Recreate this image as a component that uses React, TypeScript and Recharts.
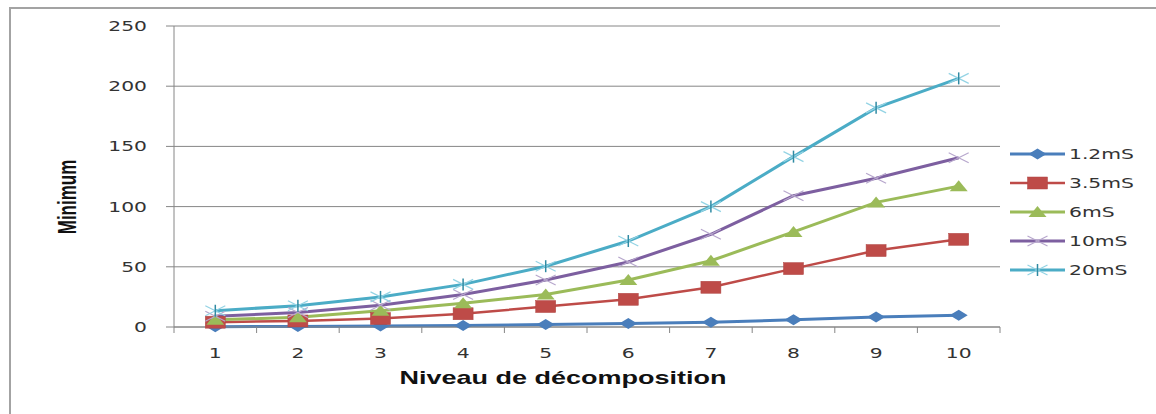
import { LineChart, Line, XAxis, YAxis, CartesianGrid } from "recharts";

// values
const levels = [1, 2, 3, 4, 5, 6, 7, 8, 9, 10];
const ms12 = [0.3, 0.5, 0.8, 1.3, 2, 3, 4, 6, 8.3, 9.7];
const ms35 = [4, 5, 7, 11, 17, 23, 33, 48.5, 63.5, 72.8];
const ms6 = [6, 8, 13.5, 19.7, 27, 39, 55, 79, 103.5, 117];
const ms10 = [9, 12, 18, 27, 39, 54, 77, 109, 123.5, 140.6];
const ms20 = [13.5, 17.7, 25, 35.4, 50.5, 71.4, 100, 141.5, 182, 206.5];
const yTicks = [0, 50, 100, 150, 200, 250];

const series = [
  { key: "ms12", name: "1.2mS", color: "#4A7EBB", marker: "diamond", width: 3, values: ms12 },
  { key: "ms35", name: "3.5mS", color: "#BE4B48", marker: "square", width: 2.5, values: ms35 },
  { key: "ms6", name: "6mS", color: "#9BBB59", marker: "triangle", width: 3, values: ms6 },
  { key: "ms10", name: "10mS", color: "#7D5FA0", marker: "cross", width: 3, values: ms10 },
  { key: "ms20", name: "20mS", color: "#4BACC6", marker: "star", width: 3, values: ms20 },
];

const data = levels.map((lvl, i) => {
  const row: Record<string, number> = { level: lvl };
  series.forEach((s) => (row[s.key] = s.values[i]));
  return row;
});

const AXIS = "#868686";
const TEXT = "#333";
const STRETCH = 1.45;

function Marker({ type, cx, cy, color }: any) {
  if (cx == null || cy == null) return null;
  switch (type) {
    case "diamond":
      return (
        <polygon
          points={`${cx - 9},${cy} ${cx},${cy - 5.5} ${cx + 9},${cy} ${cx},${cy + 5.5}`}
          fill={color}
        />
      );
    case "square":
      return <rect x={cx - 10} y={cy - 6} width={20} height={12} fill={color} stroke="#b04543" strokeWidth={0.5} />;
    case "triangle":
      return (
        <polygon points={`${cx},${cy - 6} ${cx + 9},${cy + 5} ${cx - 9},${cy + 5}`} fill={color} />
      );
    case "cross":
      return (
        <g stroke="#b6a6cc" strokeWidth={1.2}>
          <line x1={cx - 10} y1={cy - 5} x2={cx + 10} y2={cy + 5} />
          <line x1={cx - 10} y1={cy + 5} x2={cx + 10} y2={cy - 5} />
        </g>
      );
    default:
      return (
        <g>
          <g stroke="#93d3e4" strokeWidth={1.2}>
            <line x1={cx - 10} y1={cy - 5} x2={cx + 10} y2={cy + 5} />
            <line x1={cx - 10} y1={cy + 5} x2={cx + 10} y2={cy - 5} />
          </g>
          <line x1={cx} y1={cy - 6} x2={cx} y2={cy + 6} stroke="#2f8aa3" strokeWidth={1.5} />
        </g>
      );
  }
}

function YTick({ x, y, payload }: any) {
  return (
    <g transform={`translate(${x},${y})`}>
      <text
        transform={`scale(${STRETCH},1)`}
        textAnchor="end"
        dy={5}
        fontFamily="DejaVu Sans"
        fontSize={14}
        fill={TEXT}
      >
        {payload.value}
      </text>
    </g>
  );
}

function XTick({ x, y, payload }: any) {
  const off = payload.offset ?? 0;
  const axisY = y - 6;
  const last = payload.value === levels[levels.length - 1];
  return (
    <g>
      <line x1={x - off} x2={x - off} y1={axisY} y2={axisY + 6} stroke={AXIS} />
      {last && <line x1={x + off} x2={x + off} y1={axisY} y2={axisY + 6} stroke={AXIS} />}
      <g transform={`translate(${x},${axisY + 31})`}>
        <text
          transform={`scale(${STRETCH},1)`}
          textAnchor="middle"
          fontFamily="DejaVu Sans"
          fontSize={14}
          fill={TEXT}
        >
          {payload.value}
        </text>
      </g>
    </g>
  );
}

function XTitle() {
  return (
    <g transform="translate(563,384)">
      <text
        transform="scale(1.5,1)"
        textAnchor="middle"
        fontFamily="Liberation Sans"
        fontWeight="bold"
        fontSize={18}
        fill="#111"
      >
        Niveau de décomposition
      </text>
    </g>
  );
}

function YTitle() {
  return (
    <g transform="translate(76,197)">
      <text
        transform="scale(1.5,1) rotate(-90)"
        textAnchor="middle"
        fontFamily="Liberation Sans"
        fontWeight="bold"
        fontSize={17}
        fill="#111"
      >
        Minimum
      </text>
    </g>
  );
}

function ChartLegend() {
  return (
    <div style={{ position: "absolute", left: 1008, top: 139 }}>
      {series.map((s) => (
        <div key={s.key} style={{ height: 29.2, display: "flex", alignItems: "center" }}>
          <svg width={58} height={20}>
            <line x1={2} x2={57} y1={10} y2={10} stroke={s.color} strokeWidth={s.width} />
            <Marker type={s.marker} cx={29.5} cy={10} color={s.color} />
          </svg>
          <span
            style={{
              display: "inline-block",
              transform: `scaleX(${STRETCH})`,
              transformOrigin: "left center",
              fontFamily: "DejaVu Sans",
              fontSize: 14,
              color: TEXT,
              marginLeft: 3,
            }}
          >
            {s.name}
          </span>
        </div>
      ))}
    </div>
  );
}

export default function App() {
  return (
    <div
      style={{
        position: "absolute",
        left: 0,
        top: 0,
        width: 1156,
        height: 414,
        overflow: "hidden",
        background: "#fff",
      }}
    >
      <div
        style={{
          position: "absolute",
          left: 9,
          top: 7,
          width: 2000,
          height: 1000,
          border: "2px solid #a3a3a3",
        }}
      />
      <div style={{ position: "absolute", left: 0, top: 0 }}>
        <LineChart width={1156} height={414} data={data} margin={{ top: 26, right: 156, bottom: 0, left: 0 }}>
          <CartesianGrid vertical={false} stroke={AXIS} />
          <XAxis
            dataKey="level"
            scale="band"
            interval={0}
            height={87}
            tickSize={6}
            tickMargin={0}
            tickLine={false}
            axisLine={{ stroke: AXIS }}
            tick={<XTick />}
            label={<XTitle />}
          />
          <YAxis
            domain={[0, 250]}
            ticks={yTicks}
            interval={0}
            width={174}
            tickSize={8}
            tickMargin={19}
            axisLine={{ stroke: AXIS }}
            tickLine={{ stroke: AXIS }}
            tick={<YTick />}
            label={<YTitle />}
          />
          {series.map((s) => (
            <Line
              key={s.key}
              dataKey={s.key}
              name={s.name}
              type="linear"
              stroke={s.color}
              strokeWidth={s.width}
              isAnimationActive={false}
              activeDot={false}
              dot={(p: any) => (
                <Marker key={`${s.key}-${p.index}`} type={s.marker} cx={p.cx} cy={p.cy} color={s.color} />
              )}
            />
          ))}
        </LineChart>
      </div>
      <ChartLegend />
    </div>
  );
}
